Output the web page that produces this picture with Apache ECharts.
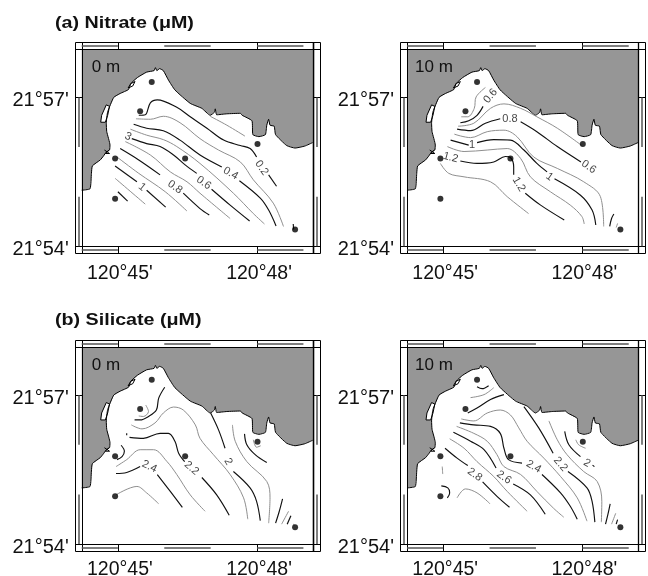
<!DOCTYPE html>
<html><head><meta charset="utf-8">
<style>html,body{margin:0;padding:0;background:#fff}#c{width:648px;height:576px}</style>
<script src="https://cdn.jsdelivr.net/npm/echarts@6/dist/echarts.min.js"></script>
</head><body><div id="c"></div>
<script>
// coordinates: [longitude minutes past 120°, latitude minutes past 21°]
const xTickValues=[45,48], xTickLabels=["120°45'","120°48'"];
const yTickValues=[54,57], yTickLabels=["21°54'","21°57'"];
const panelNames=["0 m","10 m","0 m","10 m"];
const titles=["(a) Nitrate (μM)","(b) Silicate (μM)"];
const coast=[[44.22,55.13],[44.40,55.16],[44.43,55.47],[44.45,55.62],[44.62,55.74],[44.69,55.82],[44.75,55.90],[44.82,55.94],[44.83,56.04],[44.76,56.31],[44.75,56.48],[44.78,56.71],[44.91,57.00],[45.05,57.08],[45.23,57.16],[45.28,57.28],[45.42,57.40],[45.62,57.51],[45.78,57.54],[45.81,57.60],[45.84,57.54],[45.90,57.58],[45.98,57.54],[46.09,57.35],[46.23,57.15],[46.56,56.88],[46.81,56.78],[46.99,56.64],[47.08,56.70],[47.10,56.77],[47.13,56.65],[47.35,56.67],[47.64,56.68],[47.68,56.64],[47.89,56.53],[47.91,56.25],[48.04,56.21],[48.18,56.25],[48.21,56.44],[48.25,56.56],[48.28,56.44],[48.37,56.42],[48.40,56.25],[48.64,56.03],[48.82,55.98],[49.03,56.02],[49.20,56.09]];
const landCorners=[[49.2,57.97],[44.22,57.97]];
const lagoon=[[44.75,56.85],[44.82,56.82],[44.78,56.64],[44.73,56.50],[44.63,56.50],[44.65,56.64]];
const islet=[[45.22,57.19],[45.28,57.28],[45.37,57.32],[45.32,57.23]];
const scribble=[[44.71,55.94],[44.82,55.87],[44.73,55.87],[44.81,55.94]];
const stations=[[45.73,57.31],[45.48,56.72],[44.94,55.77],[46.45,55.77],[48.01,56.06],[44.94,54.96],[48.82,54.34]];

const nitrate0Black=[
[[45.45,56.64],[45.59,56.65],[45.70,56.89],[45.85,56.95],[46.27,56.80],[46.56,56.61],[46.92,56.38],[47.28,56.14],[47.64,56.03],[47.85,55.97],[47.99,55.80]],
[[48.25,55.44],[48.42,55.21]],
[[45.34,56.46],[45.62,56.38],[45.98,56.33],[46.34,56.14],[46.77,55.84],[47.24,55.60]],
[[47.62,55.32],[48.07,54.97],[48.25,54.73],[48.41,54.41]],
[[45.30,56.17],[45.62,56.07],[45.91,56.01],[46.20,55.84],[46.45,55.64],[46.70,55.47]],
[[47.02,55.15],[47.42,54.83],[47.84,54.51]],
[[45.05,55.97],[45.45,55.74],[45.91,55.44]],
[[46.41,55.07],[46.77,54.76],[46.97,54.63]],
[[44.94,55.62],[45.41,55.30]],
[[45.62,55.13],[46.03,54.79]],
[[45.00,55.10],[45.21,54.91]],
[[48.78,54.45],[48.79,54.34]]];
const nitrate0Gray=[
[[46.99,56.62],[47.35,56.44],[47.74,56.22]],
[[45.39,56.57],[45.70,56.56],[45.98,56.62],[46.34,56.49],[46.77,56.17],[47.17,55.94],[47.64,55.70],[47.92,55.34],[48.35,54.87],[48.57,54.40]],
[[45.27,56.36],[45.62,56.24],[45.98,56.15],[46.27,56.01],[46.77,55.67],[47.49,55.07],[47.92,54.66],[48.16,54.45]],
[[45.16,56.11],[45.70,55.84],[46.13,55.50],[46.49,55.30],[46.77,55.07],[47.42,54.56]],
[[44.98,55.80],[45.45,55.47],[46.02,55.10],[46.49,54.71]],
[[44.94,55.37],[45.59,54.85]]];
const nitrate0Labels=[[48.10,55.58,"0.2",-55],[47.43,55.47,"0.4",-30],[46.85,55.28,"0.6",-35],[46.23,55.19,"0.8",-35],[45.52,55.19,"1",-40],[45.22,56.21,"3",-25]];

const nitrate10Black=[
[[45.86,56.82],[45.73,56.64],[45.55,56.53],[45.37,56.49]],
[[45.30,56.36],[45.59,56.33],[45.91,56.48],[46.23,56.57]],
[[46.67,56.51],[47.02,56.31],[47.46,56.01],[47.97,55.70]],
[[45.16,56.14],[45.55,56.04]],
[[45.73,56.09],[46.09,56.15],[46.45,56.14],[46.74,55.94],[47.02,55.67],[47.24,55.50]],
[[47.40,55.36],[47.96,55.03],[48.21,54.73],[48.29,54.43]],
[[45.37,55.72],[45.73,55.67],[46.09,55.70],[46.34,55.81],[46.45,55.79],[46.52,55.60],[46.52,55.44]],
[[46.77,55.07],[47.10,54.83],[47.61,54.53]],
[[48.59,54.40],[48.63,54.56],[48.68,54.65]]];
const nitrate10Gray=[
[[45.91,57.20],[45.71,57.01],[45.67,56.78],[45.53,56.61],[45.39,56.61]],
[[45.32,56.42],[45.66,56.48],[46.02,56.78],[46.31,56.87],[46.67,56.78],[47.02,56.61],[47.46,56.38],[47.99,56.03]],
[[45.24,56.26],[45.59,56.19],[45.95,56.31],[46.31,56.34],[46.59,56.21],[46.95,55.80],[47.46,55.57],[48.03,55.30],[48.39,55.00],[48.46,54.40]],
[[45.09,56.01],[45.45,55.91],[45.95,55.94],[46.38,55.97],[46.67,55.77],[46.88,55.40],[47.31,55.10],[47.74,54.83],[47.99,54.60],[48.04,54.45]],
[[44.94,55.67],[45.12,55.47],[45.45,55.40],[46.02,55.30],[46.38,55.00],[46.84,54.66]],
[[48.73,54.38],[48.76,54.46]]];
const nitrate10Labels=[[46.02,57.03,"0.6",50],[46.44,56.56,"0.8",0],[48.14,55.60,"0.6",-35],[45.62,56.05,"1",0],[47.29,55.40,"1",-35],[45.16,55.79,"1.2",-15],[46.63,55.25,"1.2",-60]];

const silicate0Black=[
[[46.01,57.16],[45.88,56.94],[45.83,56.70],[45.66,56.57],[45.48,56.50],[45.36,56.50]],
[[45.25,56.15],[45.55,56.13],[45.91,56.23],[46.09,56.23],[46.23,56.07],[46.31,55.83],[46.44,55.66]],
[[46.81,55.34],[47.13,54.99],[47.40,54.58]],
[[45.19,56.23],[45.19,56.19]],
[[45.07,55.99],[45.14,55.87],[45.09,55.76],[44.98,55.70]],
[[44.96,55.42],[45.19,55.44],[45.48,55.56]],
[[45.85,55.40],[46.13,55.06],[46.39,54.74]],
[[47.00,56.64],[47.17,56.30],[47.31,55.93]],
[[47.49,55.46],[47.85,55.13],[47.99,54.86],[48.07,54.47]],
[[47.73,56.22],[47.78,56.00],[47.96,55.80],[48.21,55.64]],
[[48.55,54.91],[48.48,54.66],[48.40,54.42]],
[[48.73,54.57],[48.65,54.40]]];
const silicate0Gray=[
[[45.60,56.80],[45.66,56.67],[45.55,56.57],[45.45,56.58]],
[[45.29,56.40],[45.52,56.32],[45.80,56.44],[45.98,56.64],[46.20,56.76],[46.41,56.70],[46.67,56.40],[46.77,56.13],[47.06,55.80],[47.42,55.40],[47.71,54.93],[47.80,54.50]],
[[44.96,55.56],[45.19,55.70],[45.48,55.90],[45.77,55.90],[46.06,55.66],[46.27,55.40],[46.56,54.99],[46.88,54.66]],
[[44.96,54.99],[45.41,55.16],[45.62,55.03],[45.88,54.81]],
[[47.47,56.40],[47.53,56.07],[47.78,55.66],[48.21,55.26],[48.28,54.93],[48.25,54.42]],
[[47.92,56.10],[47.99,55.95],[48.08,55.98]],
[[48.68,54.66],[48.53,54.40]],
[[48.78,54.40],[48.81,54.38]]];
const silicate0Labels=[[46.59,55.53,"2.2",-40],[45.68,55.56,"2.4",-25],[47.38,55.66,"2",-60]];

const silicate10Black=[
[[45.73,57.17],[45.84,57.13],[45.98,57.19]],
[[45.53,56.64],[45.73,56.74],[46.02,56.91],[46.31,57.01]],
[[45.36,56.44],[45.66,56.40],[46.02,56.37],[46.23,56.23],[46.31,55.93],[46.41,55.70],[46.70,55.63]],
[[47.13,55.40],[47.53,55.03],[47.74,54.76],[47.89,54.50]],
[[45.22,56.25],[45.59,56.07],[45.88,55.90],[46.14,55.53]],
[[46.51,55.21],[46.88,54.99],[47.20,54.60]],
[[45.04,55.93],[45.30,55.73],[45.53,55.58]],
[[45.85,55.25],[46.16,54.96],[46.43,54.74]],
[[44.96,55.17],[45.10,55.13],[45.14,55.03],[45.09,54.93]],
[[46.74,56.77],[47.06,56.34],[47.37,55.83]],
[[47.69,55.46],[48.10,55.13],[48.21,54.86],[48.27,54.44]],
[[47.62,56.27],[47.71,56.00],[47.96,55.76]],
[[48.22,55.59],[48.26,55.56]],
[[48.60,54.81],[48.55,54.59],[48.50,54.40]],
[[48.76,54.49],[48.73,54.40]]];
const silicate10Gray=[
[[45.59,56.95],[45.88,57.01],[46.09,57.15]],
[[45.39,56.52],[45.66,56.48],[45.95,56.64],[46.23,56.70],[46.45,56.60],[46.63,56.34],[46.81,56.07],[47.17,55.73],[47.53,55.36],[47.89,54.93],[48.10,54.46]],
[[45.29,56.37],[45.66,56.23],[45.95,56.07],[46.16,55.80],[46.31,55.56],[46.67,55.40],[47.02,55.06],[47.38,54.72],[47.60,54.54]],
[[45.14,56.12],[45.45,55.93],[45.73,55.66],[46.09,55.36],[46.38,55.06],[46.81,54.66]],
[[44.98,55.56],[44.99,55.41]],
[[45.30,54.93],[45.48,55.11],[45.73,55.03],[46.01,54.81]],
[[47.28,56.48],[47.46,56.10],[47.67,55.80],[48.03,55.46],[48.32,55.26],[48.42,54.86],[48.41,54.44]],
[[47.86,56.10],[47.92,56.00],[48.07,55.93]],
[[48.72,54.62],[48.63,54.40]]];
const silicate10Labels=[[46.95,55.56,"2.4",-30],[46.31,55.34,"2.6",-35],[45.68,55.40,"2.8",-35],[47.53,55.61,"2.2",-50],[48.10,55.63,"2",-30]];

const panels=[
 {black:nitrate0Black,gray:nitrate0Gray,labels:nitrate0Labels},
 {black:nitrate10Black,gray:nitrate10Gray,labels:nitrate10Labels},
 {black:silicate0Black,gray:silicate0Gray,labels:silicate0Labels},
 {black:silicate10Black,gray:silicate10Gray,labels:silicate10Labels}];
const grids=[{left:81.7,top:49.3},{left:407,top:49.3},{left:81.7,top:347},{left:407,top:347}];
const font='"Liberation Sans",Arial,sans-serif';
const xMin=44.22,xMax=49.2,yMin=54,yMax=57.97;

function poly(points,fill,stroke,z,i){
 return {type:'custom',coordinateSystem:'cartesian2d',xAxisIndex:i,yAxisIndex:i,silent:true,z:z,clip:true,data:[[points[0][0],points[0][1]]],
  renderItem:(p,api)=>({type:'polygon',shape:{points:points.map(q=>api.coord(q))},style:{fill:fill,stroke:stroke,lineWidth:stroke?1:0}})};
}
function line(pts,color,width,smooth,i){
 return {type:'line',xAxisIndex:i,yAxisIndex:i,data:pts,showSymbol:false,symbol:'none',smooth:smooth,silent:true,z:4,
  lineStyle:{color:color,width:width},animation:false};
}
const series=[];
panels.forEach((p,i)=>{
 series.push(poly(coast.concat(landCorners),'#969696',null,1,i),poly(lagoon,'#fff','#000',2,i),poly(islet,'#fff','#000',2,i));
 series.push(line(coast,'#000',1,0.15,i));
 series.push(line(scribble,'#000',1,false,i));
 p.gray.forEach(l=>series.push(line(l,'#8f8f8f',1,0.35,i)));
 p.black.forEach(l=>series.push(line(l,'#111',1.15,0.35,i)));
 series.push({type:'scatter',xAxisIndex:i,yAxisIndex:i,data:stations,symbol:'circle',symbolSize:6,itemStyle:{color:'#000'},silent:true,z:5,animation:false});
 series.push({type:'scatter',xAxisIndex:i,yAxisIndex:i,symbolSize:0,silent:true,z:6,animation:false,
  data:p.labels.map(l=>({value:[l[0],l[1]],label:{show:true,position:'inside',formatter:l[2],rotate:l[3],fontSize:11,fontFamily:font,color:'#111'}}))});
});
const option={animation:false,backgroundColor:'#fff',
 grid:grids.map(g=>({left:g.left,top:g.top,width:231,height:197,outerBoundsMode:'none'})),
 xAxis:grids.map((g,i)=>({gridIndex:i,type:'value',min:xMin,max:xMax,splitLine:{show:false},axisLine:{show:false},axisTick:{show:false},
  axisLabel:{customValues:xTickValues,formatter:v=>xTickLabels[xTickValues.indexOf(v)],fontSize:19.5,fontFamily:font,color:'#111',margin:i<2?17:16,padding:[0,0,0,4]}})),
 yAxis:grids.map((g,i)=>({gridIndex:i,type:'value',min:yMin,max:yMax,splitLine:{show:false},axisLine:{show:false},axisTick:{show:false},
  axisLabel:{customValues:yTickValues,formatter:v=>yTickLabels[yTickValues.indexOf(v)],fontSize:20,fontFamily:font,color:'#111',margin:13,verticalAlign:'top',lineHeight:7}})),
 series:series};
const chart=echarts.init(document.getElementById('c'),null,{renderer:'canvas'});
chart.setOption(option);

// GMT-style fancy frame, placed through the axis scales
const gfx=[];
const B=7;
const seg=(x1,y1,x2,y2,color,w)=>gfx.push({type:'line',silent:true,z:50,shape:{x1,y1,x2,y2},style:{stroke:color,lineWidth:w}});
const snap=v=>Math.round(v)+0.5;
grids.forEach((g,i)=>{
 const P=(x,y)=>chart.convertToPixel({gridIndex:i},[x,y]);
 const [x0,y0]=P(xMin,yMax), [x1,y1]=P(xMax,yMin);
 const L=snap(x0),R=snap(x1),T=snap(y0),Bt=snap(y1);
 const oL=L-B,oR=R+B,oT=T-B,oB=Bt+B;
 seg(oL,oT,oR,oT,'#000',1);seg(oL,oB,oR,oB,'#000',1);seg(oL,oT,oL,oB,'#000',1);seg(oR,oT,oR,oB,'#000',1);
 seg(oL,T,oR,T,'#000',1);seg(oL,Bt,oR,Bt,'#000',1);seg(L,oT,L,oB,'#000',1);seg(R,oT,R,oB,'#000',i%2===0?1.6:1.3);
 xTickValues.forEach(v=>{const x=snap(P(v,yMin)[0]);seg(x,oT,x,T,'#000',1);seg(x,Bt,x,oB,'#000',1);});
 yTickValues.forEach(v=>{const y=snap(P(xMin,v)[1]);seg(oL,y,L,y,'#000',1);seg(R,y,oR,y,'#000',1);});
 [[xMin,45],[46,47],[48,49]].forEach(([a,b])=>{const xa=P(a,yMin)[0],xb=P(b,yMin)[0];
   seg(xa,T-3.5,xb,T-3.5,'#555',1.5);seg(xa,Bt+3.5,xb,Bt+3.5,'#555',1.5);});
 [[57,56],[55,54]].forEach(([a,b])=>{const ya=P(xMin,a)[1],yb=P(xMin,b)[1];
   seg(L-3.5,ya,L-3.5,yb,'#555',1.5);seg(R+3.5,ya,R+3.5,yb,'#555',1.5);});
 gfx.push({type:'text',silent:true,z:51,x:x0+(i%2?8:10),y:y0+18.5,style:{text:panelNames[i],font:'17px '+font,fill:'#111',textVerticalAlign:'middle'}});
});
[[55,24],[55,321]].forEach((q,k)=>gfx.push({type:'text',silent:true,z:51,x:q[0],y:q[1],scaleX:1.23,style:{text:titles[k],font:'bold 16px '+font,fill:'#111',textVerticalAlign:'middle'}}));
chart.setOption({graphic:gfx});
</script></body></html>
